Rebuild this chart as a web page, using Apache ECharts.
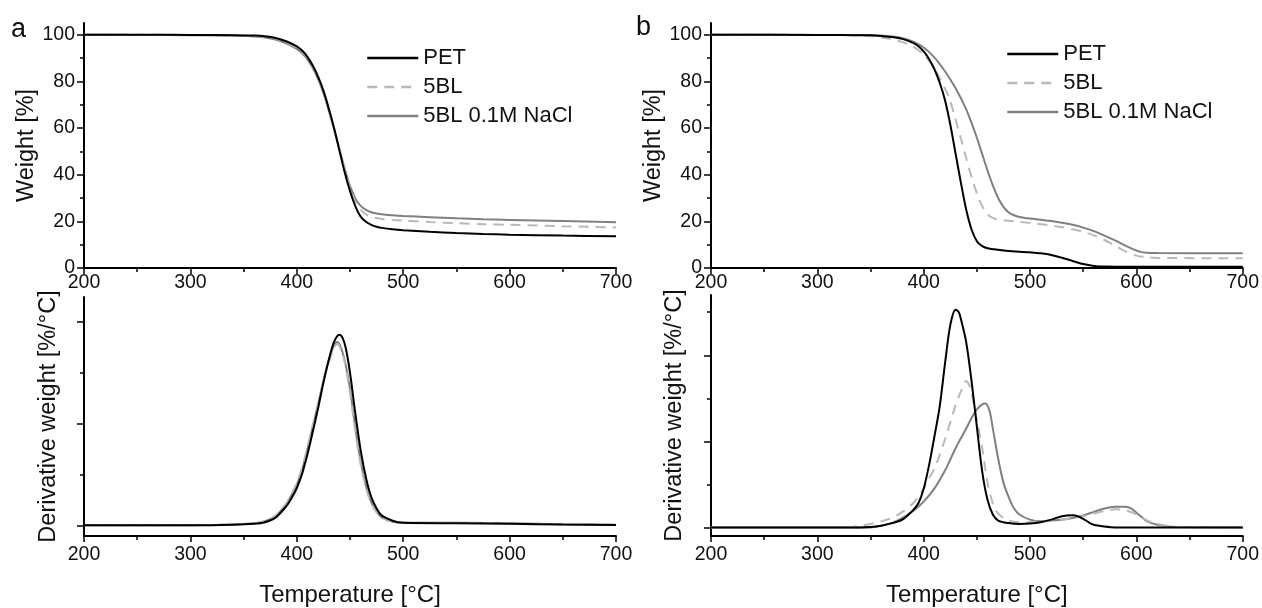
<!DOCTYPE html>
<html>
<head>
<meta charset="utf-8">
<script src="https://cdn.jsdelivr.net/npm/echarts@6/dist/echarts.min.js"></script>
<style>
  html, body { margin: 0; padding: 0; background: #fff; }
  #chart { width: 1262px; height: 608px; }
</style>
</head>
<body>
<div id="chart"></div>
<script>
// Legend names
const names = ["PET", "5BL", "5BL 0.1M NaCl"];

// Panel a – weight [%] vs temperature [°C]
const petWtA = [[200,100],[250,100],[300,99.9],[340,99.8],[360,99.6],[370,99.3],[380,98.6],[390,97.2],[400,95],[405,93.2],[410,90.5],[415,86.8],[420,82],[425,76],[430,68.5],[435,60],[440,50.5],[445,41],[450,33],[455,26.5],[460,22],[465,19.8],[470,18.5],[475,17.7],[480,17.2],[490,16.6],[500,16.2],[525,15.5],[550,15],[575,14.6],[600,14.3],[650,13.9],[700,13.6]];
const blWtA = [[200,100],[250,100],[300,99.9],[340,99.7],[360,99.4],[370,99.1],[380,98.3],[390,96.8],[400,94.5],[405,92.6],[410,90],[415,86.3],[420,81.5],[425,75.5],[430,68],[435,59.8],[440,51],[445,42.2],[450,34.5],[455,28.5],[460,25],[465,23],[470,22],[475,21.4],[480,21],[490,20.6],[500,20.3],[525,19.7],[550,19.2],[575,18.8],[600,18.5],[650,17.9],[700,17.4]];
const naclWtA = [[200,100],[250,99.9],[300,99.8],[340,99.6],[360,99.2],[370,98.8],[380,97.9],[390,96.3],[400,93.9],[405,92],[410,89.4],[415,85.7],[420,81],[425,75],[430,67.5],[435,59.5],[440,51],[445,42.6],[450,35.2],[455,29.8],[460,26.6],[465,24.9],[470,23.9],[475,23.4],[480,23],[490,22.6],[500,22.3],[525,21.8],[550,21.3],[575,20.9],[600,20.6],[650,20.1],[700,19.6]];

// Panel a – derivative weight [%/°C]
const petDtA = [[200,0.005],[300,0.005],[340,0.01],[360,0.02],[370,0.035],[380,0.08],[390,0.19],[395,0.27],[400,0.37],[405,0.51],[410,0.7],[415,0.92],[420,1.15],[425,1.4],[430,1.62],[435,1.8],[440,1.87],[443,1.84],[446,1.74],[450,1.5],[455,1.1],[460,0.74],[465,0.47],[470,0.28],[475,0.17],[480,0.1],[490,0.05],[500,0.03],[550,0.025],[600,0.02],[650,0.012],[700,0.008]];
const blDtA = [[200,0.005],[300,0.006],[340,0.012],[360,0.025],[370,0.045],[380,0.1],[390,0.22],[395,0.31],[400,0.42],[405,0.57],[410,0.77],[415,0.99],[420,1.2],[425,1.42],[430,1.6],[435,1.74],[438,1.78],[441,1.74],[445,1.6],[450,1.3],[455,0.92],[460,0.6],[465,0.37],[470,0.22],[475,0.13],[480,0.08],[490,0.04],[500,0.03],[550,0.03],[600,0.025],[650,0.015],[700,0.01]];
const naclDtA = [[200,0.005],[300,0.006],[340,0.012],[360,0.025],[370,0.045],[380,0.095],[390,0.21],[395,0.3],[400,0.4],[405,0.55],[410,0.75],[415,0.97],[420,1.19],[425,1.42],[430,1.62],[435,1.77],[438,1.8],[441,1.76],[445,1.62],[450,1.34],[455,0.96],[460,0.63],[465,0.39],[470,0.23],[475,0.14],[480,0.08],[490,0.04],[500,0.03],[550,0.03],[600,0.025],[650,0.015],[700,0.01]];

// Panel b – weight [%]
const petWtB = [[200,100],[300,99.9],[340,99.8],[350,99.7],[360,99.4],[370,99],[380,98.2],[390,96.5],[395,95],[400,92.8],[405,89.6],[410,85.3],[415,79.5],[420,72],[425,61.5],[430,49],[435,36.5],[440,25],[445,16.5],[450,11.5],[455,9.4],[460,8.5],[470,7.8],[480,7.3],[490,7],[500,6.7],[510,6.3],[520,5.6],[530,4.4],[540,3],[550,1.7],[560,0.9],[570,0.6],[600,0.5],[700,0.5]];
const blWtB = [[200,100],[300,99.9],[330,99.8],[340,99.6],[350,99.3],[360,98.8],[370,98],[380,96.8],[390,94.8],[400,91.5],[410,85.5],[420,77],[425,71.5],[430,63.5],[435,55.5],[440,47],[445,39],[450,32],[455,26.5],[460,23],[465,21.5],[470,20.8],[480,20.2],[490,19.8],[500,19.3],[510,18.8],[520,18.2],[530,17.5],[540,16.6],[550,15.5],[560,14],[570,12],[580,9.5],[590,7],[600,5.3],[610,4.6],[620,4.3],[700,4.2]];
const naclWtB = [[200,100],[300,99.9],[340,99.9],[350,99.8],[360,99.6],[370,99.2],[380,98.5],[390,97],[400,94.5],[410,90.3],[420,84.3],[430,77],[440,68],[445,62.2],[450,55.8],[455,48.8],[460,41.8],[465,35.4],[470,30],[475,26.2],[480,23.8],[485,22.6],[490,21.9],[500,21.2],[510,20.7],[520,20.1],[530,19.4],[540,18.5],[550,17.3],[560,15.8],[570,13.9],[580,11.8],[590,9.5],[600,7.5],[605,6.8],[610,6.5],[620,6.4],[700,6.3]];

// Panel b – derivative weight [%/°C]
const petDtB = [[200,0],[340,0],[350,0.005],[360,0.02],[370,0.05],[380,0.09],[390,0.2],[395,0.28],[400,0.45],[405,0.72],[410,1.05],[415,1.4],[420,1.9],[425,2.35],[430,2.53],[433,2.5],[435,2.42],[440,2.15],[445,1.7],[450,1.17],[455,0.65],[460,0.32],[465,0.15],[470,0.08],[480,0.05],[490,0.04],[500,0.045],[510,0.06],[520,0.09],[530,0.13],[540,0.14],[545,0.13],[550,0.1],[555,0.06],[560,0.03],[570,0.01],[580,0],[700,0]];
const blDtB = [[200,0],[330,0],[340,0.02],[350,0.04],[360,0.07],[370,0.11],[380,0.18],[390,0.28],[400,0.45],[405,0.57],[410,0.68],[415,0.84],[420,1.02],[425,1.22],[430,1.42],[435,1.58],[440,1.7],[443,1.65],[446,1.5],[450,1.25],[455,0.92],[460,0.52],[465,0.28],[470,0.16],[480,0.08],[490,0.06],[500,0.06],[510,0.07],[520,0.08],[530,0.09],[540,0.11],[550,0.13],[560,0.16],[570,0.19],[580,0.21],[590,0.2],[600,0.15],[610,0.08],[620,0.04],[630,0.015],[640,0.005],[700,0]];
const naclDtB = [[200,0],[350,0],[360,0.02],[370,0.05],[380,0.11],[390,0.19],[400,0.3],[410,0.45],[420,0.66],[430,0.92],[440,1.15],[445,1.27],[450,1.37],[455,1.43],[458,1.44],[462,1.35],[465,1.15],[470,0.8],[475,0.52],[480,0.35],[485,0.22],[490,0.15],[500,0.09],[510,0.07],[520,0.08],[530,0.09],[540,0.11],[550,0.14],[560,0.18],[570,0.22],[580,0.24],[590,0.24],[595,0.22],[600,0.17],[605,0.12],[610,0.07],[620,0.03],[630,0.01],[640,0.005],[700,0]];

// Axis ticks
const wtTicks = [0, 20, 40, 60, 80, 100];
const wtMinor = [10, 30, 50, 70, 90];
const dtTicksA = [0, 1, 2];
const dtMinorA = [0.5, 1.5];
const dtTicksB = [0, 1, 2];
const dtMinorB = [0.5, 1.5, 2.5];

const FONT = 'Arial, "Liberation Sans", sans-serif';
const TXT = "#111";
const colors = { "PET": "#000000", "5BL": "#b9b9b9", "5BL 0.1M NaCl": "#808080" };
const dashes = { "PET": "solid", "5BL": [10, 7], "5BL 0.1M NaCl": "solid" };

const chart = echarts.init(document.getElementById("chart"), null, { renderer: "canvas" });

const grids = [
    { left: 84, width: 532, top: 23, height: 245 },   // a weight
    { left: 84, width: 532, top: 297, height: 244 },  // a derivative
    { left: 711, width: 532, top: 23, height: 245 },  // b weight
    { left: 711, width: 532, top: 295, height: 247 }  // b derivative
];

const axisLineStyle = { show: true, onZero: false, lineStyle: { color: "#000", width: 2 } };

function xAx(gi, showName) {
    return {
        type: "value", gridIndex: gi, min: 200, max: 700, interval: 100,
        axisLine: axisLineStyle,
        axisTick: { show: true, inside: false, length: 6, lineStyle: { color: "#000", width: 1.5 } },
        minorTick: { show: true, splitNumber: 2, length: 4, lineStyle: { color: "#000", width: 1.5 } },
        axisLabel: { fontSize: 19.5, color: TXT, fontFamily: FONT, margin: showName ? 9 : 5 },
        splitLine: { show: false },
        name: showName ? "Temperature [°C]" : "",
        nameLocation: "middle", nameGap: 47,
        nameTextStyle: { fontSize: 24, color: TXT, fontFamily: FONT }
    };
}

function yAx(gi, min, max, major, name, gap, labels) {
    return {
        type: "value", gridIndex: gi, min: min, max: max,
        axisLine: axisLineStyle,
        axisTick: { show: true, inside: false, length: 7, customValues: major, lineStyle: { color: "#000", width: 1.5 } },
        axisLabel: { show: labels, customValues: major, fontSize: 19.5, color: TXT, fontFamily: FONT, margin: 9 },
        splitLine: { show: false },
        name: name, nameLocation: "middle", nameGap: gap,
        nameTextStyle: { fontSize: 23.5, color: TXT, fontFamily: FONT }
    };
}

function yMinor(gi, min, max, minor) {
    return {
        type: "value", gridIndex: gi, min: min, max: max, position: "left",
        axisLine: { show: false },
        axisTick: { show: true, inside: false, length: 4, customValues: minor, lineStyle: { color: "#000", width: 1.5 } },
        axisLabel: { show: false },
        splitLine: { show: false }
    };
}

const xAxes = [xAx(0, false), xAx(1, true), xAx(2, false), xAx(3, true)];
const yAxes = [
    yAx(0, 0, 105, wtTicks, "Weight [%]", 40, true),
    yAx(1, -0.1, 2.24, dtTicksA, "Derivative weight [%/°C]", 23, false),
    yAx(2, 0, 105, wtTicks, "Weight [%]", 44, true),
    yAx(3, -0.1, 2.7, dtTicksB, "Derivative weight [%/°C]", 24, false),
    yMinor(0, 0, 105, wtMinor),
    yMinor(1, -0.1, 2.24, dtMinorA),
    yMinor(2, 0, 105, wtMinor),
    yMinor(3, -0.1, 2.7, dtMinorB)
];

function line(name, data, axisIdx) {
    return {
        type: "line", name: name, data: data,
        xAxisIndex: axisIdx, yAxisIndex: axisIdx,
        symbol: "none", smooth: 0.3,
        lineStyle: { color: colors[name], width: 2, type: dashes[name] },
        itemStyle: { color: colors[name] },
        emphasis: { disabled: true },
        animation: false
    };
}

// draw grey curves first so the black PET line sits on top
const series = [
    line("5BL 0.1M NaCl", naclWtA, 0), line("5BL", blWtA, 0), line("PET", petWtA, 0),
    line("5BL 0.1M NaCl", naclDtA, 1), line("5BL", blDtA, 1), line("PET", petDtA, 1),
    line("5BL 0.1M NaCl", naclWtB, 2), line("5BL", blWtB, 2), line("PET", petWtB, 2),
    line("5BL 0.1M NaCl", naclDtB, 3), line("5BL", blDtB, 3), line("PET", petDtB, 3)
];

function legendAt(left, top) {
    return {
        data: names, orient: "vertical", left: left, top: top,
        itemWidth: 51, itemHeight: 14, itemGap: 7, itemTextGap: 5,
        selectedMode: false, padding: 0,
        // hide the marker dot, keep only the line sample
        itemStyle: { opacity: 0, borderWidth: 0 },
        lineStyle: { width: 2.5 },
        textStyle: { fontSize: 22, lineHeight: 21, color: TXT, fontFamily: FONT }
    };
}

const option = {
    animation: false,
    backgroundColor: "#fff",
    title: [
        { text: "a", left: 11, top: 16, padding: 0, textStyle: { fontSize: 27, fontWeight: "normal", color: TXT, fontFamily: FONT } },
        { text: "b", left: 636, top: 14, padding: 0, textStyle: { fontSize: 27, fontWeight: "normal", color: TXT, fontFamily: FONT } }
    ],
    legend: [legendAt(366, 47), legendAt(1006, 43)],
    grid: grids,
    xAxis: xAxes,
    yAxis: yAxes,
    series: series
};

chart.setOption(option);
</script>
</body>
</html>
